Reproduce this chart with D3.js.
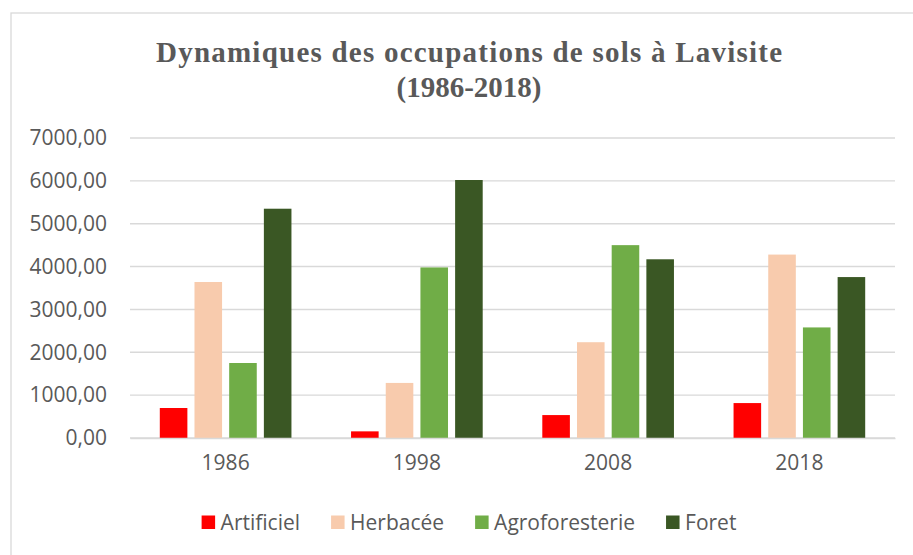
<!DOCTYPE html>
<html>
<head>
<meta charset="utf-8">
<script src="https://cdn.jsdelivr.net/npm/d3@7"></script>
<style>
  html, body { margin: 0; padding: 0; background: #fff; }
  svg { display: block; }
</style>
</head>
<body>
<svg id="chart" width="913" height="555"></svg>
<script>
// Land-cover areas at Lavisite, by year and class
const years = ["1986", "1998", "2008", "2018"];
const classes = ["Artificiel", "Herbacée", "Agroforesterie", "Foret"];
const artificiel     = [700, 155, 535, 815];
const herbacee       = [3640, 1285, 2235, 4280];
const agroforesterie = [1750, 3980, 4500, 2580];
const foret          = [5350, 6020, 4170, 3755];
const yTicks = [0, 1000, 2000, 3000, 4000, 5000, 6000, 7000];
const colors = ["#ff0000", "#f8cbad", "#70ad47", "#3a5724"];

const seriesValues = [artificiel, herbacee, agroforesterie, foret];
const rows = years.map((y, i) => ({
  year: y,
  values: classes.map((c, k) => ({ cls: c, value: seriesValues[k][i] }))
}));

const svg = d3.select("#chart");
const textColor = "#595959";
const gridColor = "#d9d9d9";
const sans = "'Open Sans', sans-serif";
const labelSize = 21;

// Chart frame
svg.append("rect")
  .attr("x", 11).attr("y", 13)
  .attr("width", 930).attr("height", 560)
  .attr("fill", "#fff")
  .attr("stroke", gridColor).attr("stroke-width", 1.3);

// Title
const title = svg.append("text")
  .attr("text-anchor", "middle")
  .attr("font-family", "'Liberation Serif', 'DejaVu Serif', serif")
  .attr("font-weight", "bold")
  .attr("font-size", 29)
  .attr("fill", textColor);
title.append("tspan").attr("x", 469).attr("y", 62)
  .attr("textLength", 626).attr("lengthAdjust", "spacing")
  .text("Dynamiques des occupations de sols à Lavisite");
title.append("tspan").attr("x", 469).attr("y", 97)
  .text("(1986-2018)");

// Scales
const plot = { left: 130, right: 895, top: 138, bottom: 438 };
const x0 = d3.scaleBand().domain(years).range([plot.left, plot.right]).padding(0);
const clusterPad = 29.8;
const x1 = d3.scaleBand().domain(classes)
  .range([clusterPad, x0.bandwidth() - clusterPad])
  .paddingInner(0.205).paddingOuter(0);
const y = d3.scaleLinear().domain([0, 7000]).range([plot.bottom, plot.top]);
const color = d3.scaleOrdinal().domain(classes).range(colors);

// Gridlines
svg.append("g")
  .selectAll("line")
  .data(yTicks)
  .join("line")
  .attr("x1", plot.left).attr("x2", plot.right)
  .attr("y1", d => y(d)).attr("y2", d => y(d))
  .attr("stroke", gridColor).attr("stroke-width", 1.4);

// Y axis labels
const fmt = d => d3.format(".2f")(d).replace(".", ",");
const yAxis = svg.append("g")
  .attr("transform", `translate(${plot.left},0)`)
  .call(d3.axisLeft(y).tickValues(yTicks).tickFormat(fmt).tickSize(0).tickPadding(23));
yAxis.select(".domain").remove();
yAxis.selectAll("text")
  .attr("font-family", sans).attr("font-size", labelSize).attr("fill", textColor);

// Bars
svg.append("g")
  .selectAll("g")
  .data(rows)
  .join("g")
  .attr("transform", d => `translate(${x0(d.year)},0)`)
  .selectAll("rect")
  .data(d => d.values)
  .join("rect")
  .attr("x", d => x1(d.cls))
  .attr("width", x1.bandwidth())
  .attr("y", d => y(d.value))
  .attr("height", d => y(0) - y(d.value))
  .attr("fill", d => color(d.cls));

// X axis
const xAxis = svg.append("g")
  .attr("transform", `translate(0,${plot.bottom})`)
  .call(d3.axisBottom(x0).tickSize(0).tickPadding(17));
xAxis.select(".domain").attr("stroke", gridColor).attr("stroke-width", 1.6);
xAxis.selectAll("text")
  .attr("font-family", sans).attr("font-size", labelSize).attr("fill", textColor);

// Legend
const legend = svg.append("g").attr("font-family", sans).attr("font-size", labelSize);
const items = legend.selectAll("g").data(classes).join("g");
items.append("rect").attr("width", 13.5).attr("height", 13.5)
  .attr("y", 515.5).attr("fill", d => color(d));
items.append("text").attr("x", 19).attr("y", 529.5).attr("fill", textColor).text(d => d);
let cursor = 0;
const offsets = [];
items.each(function () {
  offsets.push(cursor);
  const w = d3.select(this).select("text").node().getComputedTextLength();
  cursor += 19 + w + 31;
});
const total = cursor - 31;
const start = 469 - total / 2;
items.attr("transform", (d, i) => `translate(${start + offsets[i]},0)`);
</script>
</body>
</html>
